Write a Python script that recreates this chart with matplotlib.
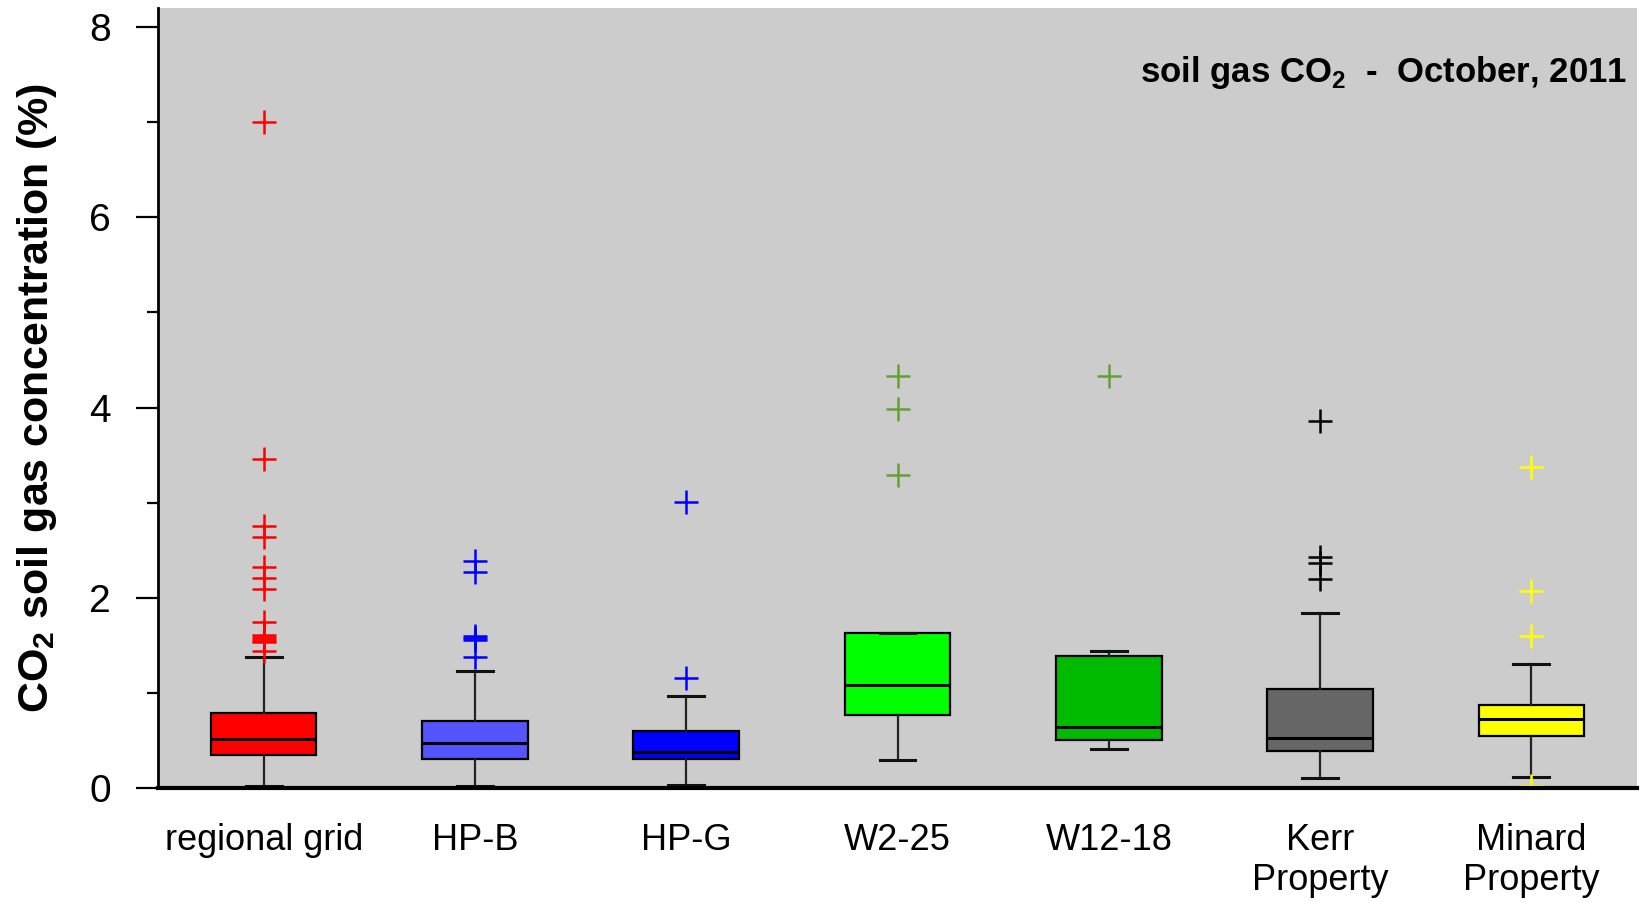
import numpy as np
import matplotlib
matplotlib.use('Agg')
import matplotlib.pyplot as plt
from matplotlib import font_manager

# box statistics (CO2 %, October 2011)
sites = ['regional grid', 'HP-B', 'HP-G', 'W2-25', 'W12-18', 'Kerr\nProperty', 'Minard\nProperty']
q1 = [0.35, 0.30, 0.30, 0.77, 0.505, 0.39, 0.545]
med = [0.52, 0.47, 0.38, 1.08, 0.645, 0.53, 0.73]
q3 = [0.785, 0.70, 0.60, 1.63, 1.39, 1.04, 0.87]
whislo = [0.02, 0.02, 0.03, 0.29, 0.41, 0.10, 0.12]
whishi = [1.38, 1.235, 0.97, 1.63, 1.44, 1.835, 1.30]
fliers = [
    [7.0, 3.46, 2.75, 2.64, 2.32, 2.21, 2.09, 1.74, 1.61, 1.59, 1.57, 1.55, 1.53, 1.44],
    [2.39, 2.27, 1.60, 1.58, 1.56, 1.38],
    [3.01, 1.155],
    [4.33, 3.98, 3.29],
    [4.33],
    [3.86, 2.43, 2.37, 2.20],
    [3.37, 2.07, 1.60, 0.02],
]
box_colors = ['#ff0000', '#5555ff', '#0000ff', '#00ff00', '#00bb00', '#666666', '#ffff00']
flier_colors = ['#ff0000', '#0000ff', '#0000ff', '#66a033', '#66a033', '#000000', '#ffff00']

installed = {f.name for f in font_manager.fontManager.ttflist}
narrow = 'Liberation Sans Narrow' if 'Liberation Sans Narrow' in installed else 'Liberation Sans'
plt.rcParams['font.family'] = [narrow, 'DejaVu Sans']
plt.rcParams['mathtext.fontset'] = 'custom'
plt.rcParams['mathtext.rm'] = narrow
plt.rcParams['mathtext.bf'] = narrow + ':bold'

fig = plt.figure(figsize=(16.47, 9.02), dpi=100)
ax = fig.add_axes([158 / 1647, 1 - 788 / 902, (1637 - 158) / 1647, 780 / 902])
ax.set_facecolor('#cccccc')

stats = []
for i in range(len(sites)):
    stats.append({'med': med[i], 'q1': q1[i], 'q3': q3[i],
                  'whislo': whislo[i], 'whishi': whishi[i], 'fliers': fliers[i]})

positions = np.arange(1, len(sites) + 1)
bp = ax.bxp(stats, positions=positions, widths=0.5, capwidths=0.17, patch_artist=True,
            boxprops=dict(edgecolor='black', linewidth=1.6),
            medianprops=dict(color='black', linewidth=2.2),
            whiskerprops=dict(color='#222222', linewidth=1.6),
            capprops=dict(color='#111111', linewidth=2.2),
            flierprops=dict(marker='+', markersize=17, markeredgewidth=1.8, linestyle='none'))

for box, c in zip(bp['boxes'], box_colors):
    box.set_facecolor(c)
for fl, c in zip(bp['fliers'], flier_colors):
    fl.set_markeredgecolor(c)
    fl.set_markerfacecolor(c)

ax.set_xlim(0.5, 7.5)
ax.set_ylim(0, 8.2)
ax.set_yticks([0, 2, 4, 6, 8])
ax.set_yticks([1, 3, 5, 7], minor=True)
ax.set_xticks(positions)
ax.set_xticklabels(sites, fontsize=26, linespacing=1.18, va='top')
ax.tick_params(axis='x', length=0, pad=25)
ax.tick_params(axis='y', which='major', direction='out', length=16, width=1.6, labelsize=28, pad=18)
ax.tick_params(axis='y', which='minor', direction='out', length=8, width=1.6)

for side in ['top', 'right']:
    ax.spines[side].set_visible(False)
ax.spines['left'].set_linewidth(2)
ax.spines['bottom'].set_linewidth(3)

ax.set_ylabel(r'CO$_\mathregular{2}$ soil gas concentration (%)', fontsize=31,
              fontweight='bold', family=['Liberation Sans', 'DejaVu Sans'])
ax.yaxis.set_label_coords(-0.082, 0.5)
ax.yaxis.label.set_va('center')

ax.text(0.993, 0.9055, r'soil gas CO$_\mathregular{2}$  -  October, 2011', transform=ax.transAxes,
        ha='right', va='baseline', fontsize=25, fontweight='bold')

fig.savefig('out.png', dpi=100)
